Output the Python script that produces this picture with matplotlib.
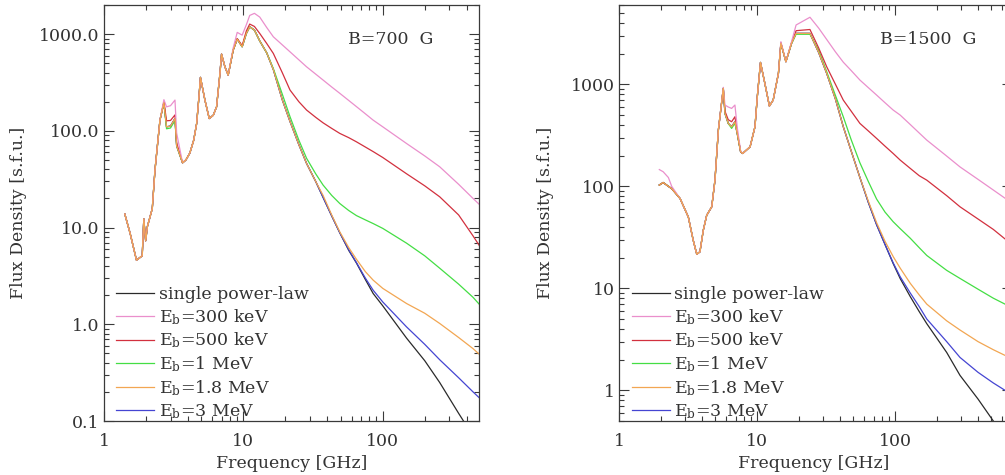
import matplotlib
matplotlib.use("Agg")
import matplotlib.pyplot as plt
from matplotlib.ticker import FixedLocator, FormatStrFormatter, LogLocator, NullFormatter

plt.rcParams["font.family"] = ["DejaVu Serif"]
plt.rcParams["mathtext.fontset"] = "dejavuserif"

# ---------------- B = 700 G ----------------
nu_low_700 = [1.41, 1.54, 1.71, 1.88, 1.93, 1.99, 2.05, 2.22, 2.32, 2.52, 2.69, 2.81, 3.0, 3.23,
              3.32, 3.66, 3.87, 4.13, 4.4, 4.62, 4.8, 4.92, 5.3, 5.69, 6.08, 6.42, 6.79, 6.97,
              7.37, 7.78, 8.45, 9.03, 9.8, 10.5, 11.1, 12.0, 13.1, 14.7]
core_low_700 = [13.8, 8.7, 4.6, 5.1, 12.3, 7.3, 10.3, 15.7, 39, 129, 195, 110, 112, 134,
                70, 46.7, 50, 59, 80, 119, 225, 357, 207, 134, 145, 177, 392, 621,
                459, 377, 684, 888, 740, 1016, 1190, 1100, 850, 640]
green_low_700 = [13.8, 8.7, 4.6, 5.1, 12.3, 7.3, 10.3, 15.7, 39, 129, 195, 105, 107, 128,
                 70, 46.7, 50, 59, 80, 119, 225, 357, 207, 134, 145, 177, 392, 621,
                 459, 377, 684, 888, 740, 1016, 1190, 1100, 850, 640]
red_low_700 = [13.8, 8.7, 4.6, 5.1, 12.3, 7.3, 10.3, 15.7, 39, 129, 200, 127, 128, 146,
               75, 46.7, 50, 59, 80, 119, 225, 357, 207, 134, 145, 177, 392, 621,
               459, 377, 684, 900, 760, 1080, 1270, 1200, 1016, 800]
pink_low_700 = [13.8, 8.7, 4.6, 5.1, 12.3, 7.3, 10.3, 15.7, 39, 129, 210, 177, 182, 208,
                95, 46.7, 50, 59, 80, 119, 225, 357, 207, 134, 145, 177, 392, 621,
                459, 377, 720, 1042, 976, 1250, 1560, 1640, 1500, 1170]

nu_high_700 = [16.4, 19, 21.6, 25, 28.4, 33, 37.3, 43, 49.2, 57, 64.7, 75, 85.3, 100,
               148, 200, 256, 350, 444, 500]
pink_high_700 = [938, 775, 656, 542, 459, 386, 335, 284, 244, 206, 178, 150, 129, 110,
                 74, 55, 42.5, 28, 20, 17]
red_high_700 = [631, 400, 264, 200, 164, 138, 121, 106, 94, 85, 77, 68, 61, 53,
                36, 27, 20.8, 13.5, 8.2, 6.3]
green_high_700 = [440, 240, 140, 80, 52, 36, 27.5, 21.5, 17.7, 15, 13.3, 12, 11.0, 9.8,
                  6.9, 5.1, 3.8, 2.6, 1.9, 1.57]
orange_high_700 = [430, 210, 125, 72, 46, 30, 21.5, 13.5, 9.0, 6.2, 4.7, 3.5, 2.86, 2.35,
                   1.64, 1.3, 1.02, 0.73, 0.56, 0.48]
black_high_700 = [430, 210, 125, 72, 46, 30, 20.5, 13.2, 8.8, 5.8, 4.3, 2.9, 2.08, 1.55,
                  0.72, 0.42, 0.25, 0.12, 0.07, 0.05]
blue_high_700 = [430, 210, 125, 72, 46, 30, 20.5, 13.2, 8.8, 5.9, 4.35, 3.0, 2.25, 1.7,
                 0.94, 0.62, 0.43, 0.28, 0.2, 0.17]

# ---------------- B = 1500 G ----------------
nu_low_1500 = [1.96, 2.09, 2.28, 2.41, 2.77, 3.18, 3.45, 3.66, 3.86, 4.08, 4.32, 4.70, 4.96,
               5.25, 5.70, 5.86, 6.19, 6.55, 6.92, 7.19, 7.61, 7.87, 8.91, 9.67, 10.05, 10.6,
               11.4, 12.3, 13.1, 14.3, 14.9, 16.2, 17.8, 19.2, 24.2]
core_low_1500 = [103, 109, 100, 95, 76, 50, 29.6, 21.6, 22.8, 37, 52, 63, 115,
                 357, 914, 519, 414, 384, 430, 330, 218, 210, 244, 384, 755, 1640,
                 1023, 613, 701, 1282, 2522, 1668, 2522, 3160, 3160]
green_low_1500 = [103, 109, 100, 95, 76, 50, 29.6, 21.6, 22.8, 37, 52, 63, 115,
                  357, 914, 519, 414, 370, 415, 330, 218, 210, 244, 384, 755, 1640,
                  1023, 613, 701, 1282, 2522, 1668, 2522, 3100, 3100]
red_low_1500 = [103, 109, 100, 95, 76, 50, 29.6, 21.6, 22.8, 37, 52, 63, 115,
                357, 914, 545, 450, 430, 481, 340, 218, 210, 244, 384, 755, 1640,
                1023, 613, 701, 1282, 2560, 1668, 2560, 3360, 3450]
pink_low_1500 = [146, 139, 122, 100, 76, 50, 29.6, 21.6, 22.8, 37, 52, 63, 115,
                 357, 935, 627, 600, 581, 627, 380, 222, 210, 244, 384, 755, 1640,
                 1023, 613, 701, 1282, 2620, 1668, 2620, 3820, 4550]

nu_high_1500 = [28, 32, 37, 42.2, 48, 55.7, 64, 73.6, 84.6, 97, 109, 129, 150, 170,
                237, 296, 400, 516, 627, 700]
pink_high_1500 = [3560, 2755, 2085, 1650, 1372, 1102, 930, 785, 661, 560, 500, 404, 333, 284,
                  198, 155, 117, 92, 76.5, 69]
red_high_1500 = [2270, 1488, 1003, 701, 549, 414, 350, 295, 248, 210, 181, 150, 127, 115,
                 81, 63, 47.8, 37.8, 30.5, 28.2]
green_high_1500 = [2150, 1330, 780, 481, 290, 170, 112, 75, 56, 45, 38.5, 31, 25, 21,
                   15, 12.5, 9.8, 8.0, 7.0, 6.5]
orange_high_1500 = [2050, 1282, 720, 384, 225, 122, 72, 44, 29, 20.5, 15.8, 11.2, 8.6, 7.0,
                    4.8, 3.9, 3.0, 2.5, 2.2, 2.05]
black_high_1500 = [2050, 1282, 720, 384, 225, 122, 70, 42, 27, 17.5, 12.5, 8.3, 5.9, 4.5,
                   2.35, 1.4, 0.82, 0.5, 0.35, 0.29]
blue_high_1500 = [2050, 1282, 720, 384, 225, 122, 70, 42, 27, 17.8, 13.0, 9.0, 6.6, 5.0,
                  3.0, 2.1, 1.5, 1.18, 1.0, 0.92]

series_labels = ["single power-law", r"E$_{\rm b}$=300 keV", r"E$_{\rm b}$=500 keV",
                 r"E$_{\rm b}$=1 MeV", r"E$_{\rm b}$=1.8 MeV", r"E$_{\rm b}$=3 MeV"]
series_colors = ["#2a2a2a", "#ea8fcc", "#d2303e", "#44de44", "#f2a652", "#4545d2"]
series_zorder = [2.0, 2.4, 2.3, 2.2, 2.5, 2.1]

axis_color = "#3a3a3a"
text_color = "#333333"
fs = 12.5

fig = plt.figure(figsize=(10.05, 4.75), dpi=100)
fig.patch.set_facecolor("white")

ax1 = fig.add_axes([104 / 1005, 54 / 475, 375 / 1005, 416 / 475])
ax2 = fig.add_axes([619 / 1005, 54 / 475, 392.6 / 1005, 416 / 475])


def draw_panel(ax, nu_low, lows, nu_high, highs, xlim, ylim, yticks, yfmt, title):
    handles = []
    for low, high, color, label, z in zip(lows, highs, series_colors, series_labels, series_zorder):
        line, = ax.plot(nu_low + nu_high, low + high, color=color, lw=0.9, label=label,
                        zorder=z, solid_joinstyle="round")
        handles.append(line)
    ax.set_xscale("log")
    ax.set_yscale("log")
    ax.set_xlim(*xlim)
    ax.set_ylim(*ylim)

    ax.xaxis.set_major_locator(FixedLocator([1, 10, 100]))
    ax.xaxis.set_major_formatter(FormatStrFormatter("%g"))
    ax.xaxis.set_minor_locator(LogLocator(base=10, subs=range(2, 10), numticks=20))
    ax.xaxis.set_minor_formatter(NullFormatter())
    ax.yaxis.set_major_locator(FixedLocator(yticks))
    ax.yaxis.set_major_formatter(FormatStrFormatter(yfmt))
    ax.yaxis.set_minor_locator(LogLocator(base=10, subs=range(2, 10), numticks=20))
    ax.yaxis.set_minor_formatter(NullFormatter())

    ax.tick_params(which="both", direction="in", top=True, right=True,
                   color=axis_color, width=0.8, labelcolor=text_color, labelsize=fs)
    ax.tick_params(which="major", length=7)
    ax.tick_params(which="minor", length=3.5)
    ax.tick_params(axis="y", pad=3)
    ax.tick_params(axis="x", pad=9)
    for sp in ax.spines.values():
        sp.set_color(axis_color)
        sp.set_linewidth(0.9)

    ax.set_xlabel("Frequency [GHz]", fontsize=fs, color=text_color)
    ax.set_ylabel("Flux Density [s.f.u.]", fontsize=fs, color=text_color)
    ax.text(title[1], 0.916, title[0], transform=ax.transAxes, fontsize=fs,
            color=text_color, ha="left", va="center")

    ax.legend(handles=handles, loc="upper left", bbox_to_anchor=(0.032, 0.325),
              frameon=False, fontsize=fs, handlelength=2.2, handletextpad=0.25,
              labelspacing=0.235, borderpad=0, borderaxespad=0, labelcolor=text_color)


draw_panel(ax1, nu_low_700,
           [core_low_700, pink_low_700, red_low_700, green_low_700, core_low_700, core_low_700],
           nu_high_700,
           [black_high_700, pink_high_700, red_high_700, green_high_700, orange_high_700,
            blue_high_700],
           (1, 490), (0.1, 2000), [0.1, 1, 10, 100, 1000], "%.1f", ("B=700  G", 0.651))
ax1.xaxis.set_label_coords(0.5, -0.082)
ax1.yaxis.set_label_coords(-0.205, 0.5)

draw_panel(ax2, nu_low_1500,
           [core_low_1500, pink_low_1500, red_low_1500, green_low_1500, core_low_1500,
            core_low_1500],
           nu_high_1500,
           [black_high_1500, pink_high_1500, red_high_1500, green_high_1500, orange_high_1500,
            blue_high_1500],
           (1, 700), (0.5, 6000), [1, 10, 100, 1000], "%g", ("B=1500  G", 0.665))
ax2.xaxis.set_label_coords(0.497, -0.082)
ax2.yaxis.set_label_coords(-0.165, 0.5)

fig.savefig("out.png", dpi=100, facecolor="white")
